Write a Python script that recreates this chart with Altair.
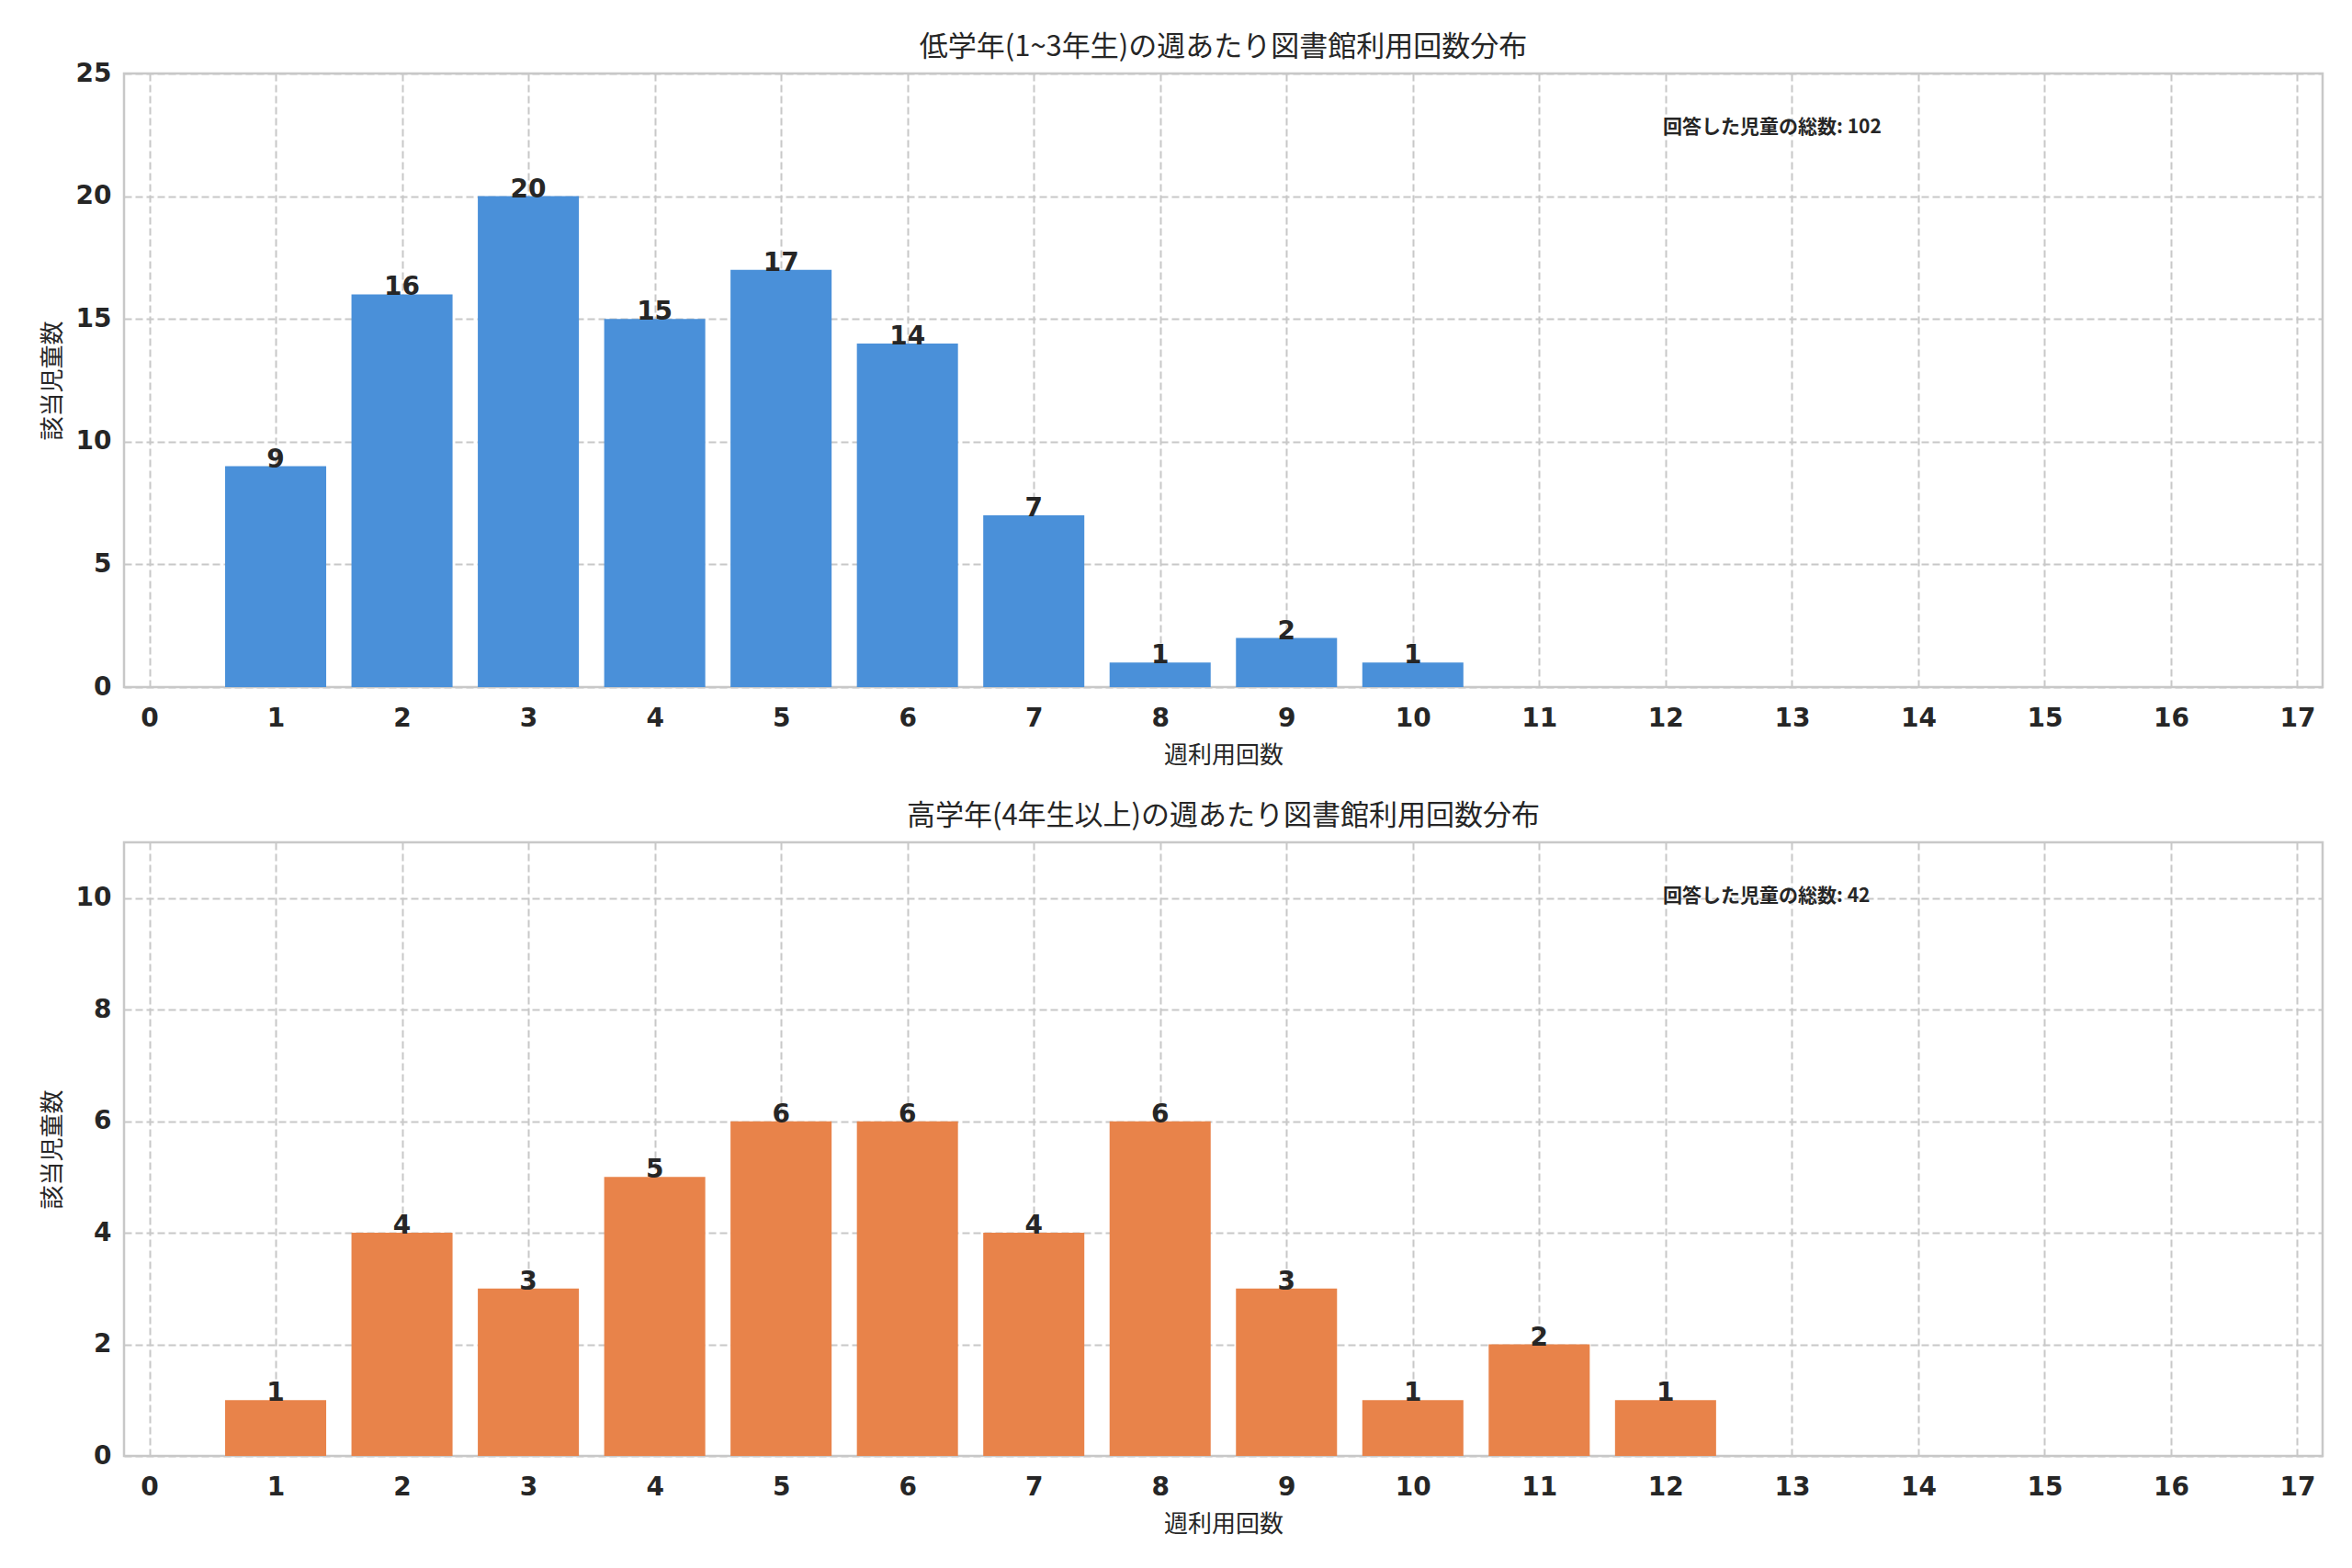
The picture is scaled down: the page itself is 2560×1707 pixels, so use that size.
import altair as alt
import pandas as pd

# ---- data ----
x_low = [1, 2, 3, 4, 5, 6, 7, 8, 9, 10]
y_low = [9, 16, 20, 15, 17, 14, 7, 1, 2, 1]
x_high = [1, 2, 3, 4, 5, 6, 7, 8, 9, 10, 11, 12]
y_high = [1, 4, 3, 5, 6, 6, 4, 6, 3, 1, 2, 1]
x_ticks = list(range(18))
y_ticks_low = [0, 5, 10, 15, 20, 25]
y_ticks_high = [0, 2, 4, 6, 8, 10]

title_low = "低学年(1~3年生)の週あたり図書館利用回数分布"
title_high = "高学年(4年生以上)の週あたり図書館利用回数分布"
x_title = "週利用回数"
y_title = "該当児童数"
note_low = f"回答した児童の総数: {sum(y_low)}"
note_high = f"回答した児童の総数: {sum(y_high)}"

BLUE = "#4A90D9"
ORANGE = "#E8834A"
TEXT = "#262626"
W, H = 2393, 668
CJK = "Noto Sans CJK JP"
LAT = "DejaVu Sans"


def panel(xs, ys, color, ymax, yticks, title, note, title_offset):
    df = pd.DataFrame({"x": xs, "y": ys})
    df["x0"] = df["x"] - 0.4
    df["x1"] = df["x"] + 0.4
    df["y0"] = 0
    xscale = alt.Scale(domain=[-0.2, 17.2], nice=False, zero=False)
    yscale = alt.Scale(domain=[0, ymax], nice=False)
    base = alt.Chart(df)
    bars = base.mark_bar(color=color, cornerRadius=0).encode(
        x=alt.X("x0:Q", scale=xscale,
                axis=alt.Axis(values=x_ticks, title=x_title, format="d")),
        x2="x1:Q",
        y=alt.Y("y:Q", scale=yscale,
                axis=alt.Axis(values=yticks, title=y_title, format="d")),
        y2="y0:Q",
    )
    labels = base.mark_text(
        font=LAT, fontSize=28, fontWeight="bold", color=TEXT,
        baseline="alphabetic", align="center", dy=1,
    ).encode(
        x=alt.X("x:Q", scale=xscale),
        y=alt.Y("y:Q", scale=yscale),
        text="y:Q",
    )
    ann = alt.Chart(pd.DataFrame({"t": [note]})).mark_text(
        font=CJK, fontSize=21, fontWeight="bold", color=TEXT,
        align="left", baseline="middle",
    ).encode(
        x=alt.value(0.70 * W),
        y=alt.value(0.088 * H),
        text="t:N",
    )
    return alt.layer(bars, labels, ann).properties(
        width=W, height=H,
        title=alt.TitleParams(title, font=CJK, fontSize=31, fontWeight="normal",
                              color=TEXT, offset=title_offset, anchor="middle"),
    )


top = panel(x_low, y_low, BLUE, 25, y_ticks_low, title_low, note_low, -2)
bottom = panel(x_high, y_high, ORANGE, 11, y_ticks_high, title_high, note_high, 12)

chart = alt.vconcat(top, bottom, spacing=34).properties(
    padding={"top": 26, "left": 34, "right": 20, "bottom": 6},
    background="white",
).configure_view(
    stroke="#c8c8c8", strokeWidth=2.5,
).configure_axis(
    labelFont=LAT, labelFontWeight="bold", labelFontSize=28, labelColor=TEXT,
    titleFont=CJK, titleFontSize=26, titleFontWeight="normal", titleColor=TEXT,
    tickSize=0, domain=False,
    grid=True, gridColor="#c8c8c8", gridDash=[8, 4], gridWidth=2,
    labelPadding=14,
).configure_axisX(
    labelPadding=20,
    titlePadding=13,
).configure_axisY(
    titlePadding=12,
)

chart.save("out.html", embed_options={"renderer": "svg", "actions": False})
